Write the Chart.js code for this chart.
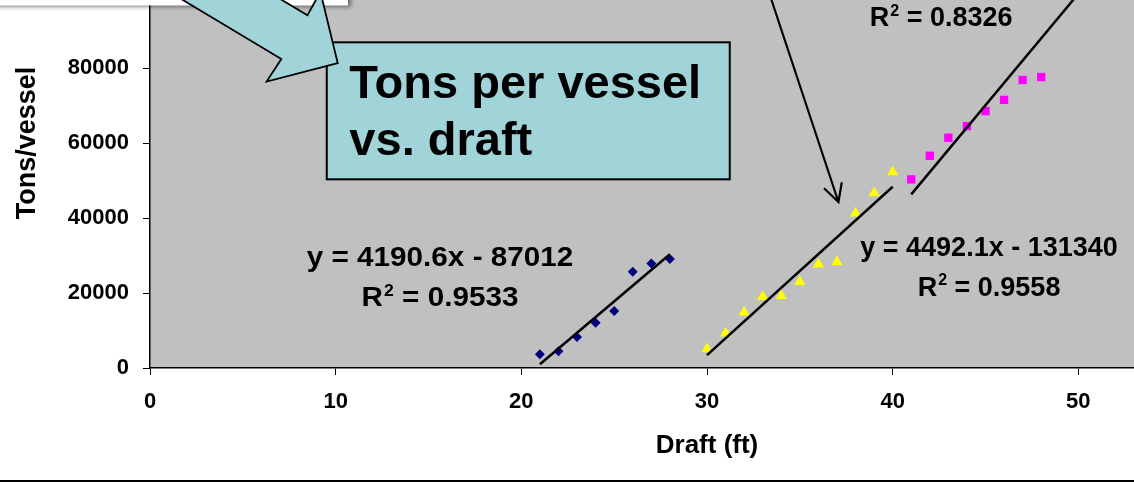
<!DOCTYPE html>
<html>
<head>
<meta charset="utf-8">
<script src="https://cdn.jsdelivr.net/npm/chart.js@4.4.1/dist/chart.umd.min.js"></script>
<style>
  html, body { margin: 0; padding: 0; background: #fff; overflow: hidden; width: 1134px; height: 483px; }
  #wrap { position: absolute; left: 0; top: -100px; width: 1300px; height: 591px; }
  #frame { position: absolute; left: 0; top: 480px; width: 1134px; height: 2px; background: #000; }
</style>
</head>
<body>
<div id="wrap"><canvas id="chart" width="1300" height="591" style="width:1300px;height:591px"></canvas></div>
<div id="frame"></div>
<script>
// Vessel groups: draft (ft) and tons carried per vessel
const draftA = [21, 22, 23, 24, 25, 26, 27, 28];
const tonsA  = [3700, 4500, 8300, 12100, 15200, 25700, 27900, 29100];

const draftB = [30, 31, 32, 33, 34, 35, 36, 37, 38, 39, 40];
const tonsB  = [5100, 9300, 14900, 19000, 19300, 23000, 27700, 28300, 41300, 46700, 52300];

const draftC = [41, 42, 43, 44, 45, 46, 47, 48];
const tonsC  = [50300, 56600, 61400, 64500, 68500, 71500, 76800, 77600];

// Linear trend lines, one per group
const trendSlopes     = [4190.6, 4492.1, 5948];
const trendIntercepts = [-87012, -131340, -197580];
const trendR2         = ['0.9533', '0.9558', '0.8326'];
const trendFrom       = [21, 30, 41];
const trendTo         = [28, 40, 50];

// Axis ticks
const xTicks = [0, 10, 20, 30, 40, 50, 60];
const yTicks = [0, 20000, 40000, 60000, 80000, 100000, 120000];

const FAMILY = "'Liberation Sans', Arial, Helvetica, sans-serif";

const toPoints = (xs, ys) => xs.map((x, i) => ({ x: x, y: ys[i] }));
const trendPoints = k => [trendFrom[k], trendTo[k]].map(x => ({ x: x, y: trendSlopes[k] * x + trendIntercepts[k] }));
const trendText = k => 'y = ' + trendSlopes[k] + 'x - ' + (-trendIntercepts[k]);

// Equation / R² label anchors (data units: centre x, baseline of the R² line)
const labelX       = [15.62, 45.19, 42.61];
const labelY       = [16533, 19280, 91200];
const labelStretch = [1.10, 1.0, 1.0];
const labelShowEq  = [true, true, false];

// Callout box and arrows (data-unit anchors)
const calloutCorner = [9.52, 86850];
const calloutLines = ['Tons per vessel', 'vs. draft'];
const blockArrowTip = [10.11, 81307];
const pointerFrom = [32.76, 108800];
const pointerTo = [37.08, 44267];
const noteBoxCorner = [10.66, 96670];

const plotBackground = {
  id: 'plotBackground',
  beforeDraw(chart) {
    const { ctx, chartArea: a } = chart;
    ctx.save();
    ctx.fillStyle = '#C0C0C0';
    ctx.fillRect(a.left, a.top, a.right - a.left, a.bottom - a.top);
    ctx.restore();
  }
};

function drawR2(ctx, cx, base, value, sx) {
  const main = 'bold 27px ' + FAMILY;
  const sup = 'bold 16px ' + FAMILY;
  ctx.font = main;
  const wR = ctx.measureText('R').width;
  const rest = ' = ' + value;
  const wRest = ctx.measureText(rest).width;
  ctx.font = sup;
  const w2 = ctx.measureText('2').width;
  const gap = 1;
  const total = wR + gap + w2 + wRest;
  ctx.save();
  ctx.translate(cx, base);
  ctx.scale(sx, 1);
  ctx.textAlign = 'left';
  ctx.textBaseline = 'alphabetic';
  let x = -total / 2;
  ctx.font = main; ctx.fillText('R', x, 0); x += wR + gap;
  ctx.font = sup; ctx.fillText('2', x, -10.5); x += w2;
  ctx.font = main; ctx.fillText(rest, x, 0);
  ctx.restore();
}

function drawCentered(ctx, text, cx, base, sx) {
  ctx.save();
  ctx.font = 'bold 27px ' + FAMILY;
  ctx.textAlign = 'center';
  ctx.textBaseline = 'alphabetic';
  ctx.translate(cx, base);
  ctx.scale(sx, 1);
  ctx.fillText(text, 0, 0);
  ctx.restore();
}

const annotations = {
  id: 'annotations',
  afterDraw(chart) {
    const { ctx } = chart;
    const xs = chart.scales.x, ys = chart.scales.y;
    const px = v => xs.getPixelForValue(v);
    const py = v => ys.getPixelForValue(v);

    ctx.save();
    ctx.fillStyle = '#000';

    // white note box at the top (mostly out of frame), with drop shadow
    const nbR = px(noteBoxCorner[0]), nbB = py(noteBoxCorner[1]);
    ctx.save();
    ctx.shadowColor = 'rgba(0,0,0,0.45)';
    ctx.shadowBlur = 4;
    ctx.shadowOffsetX = 3;
    ctx.shadowOffsetY = 2;
    ctx.fillStyle = '#fff';
    ctx.fillRect(nbR - 360, nbB - 80, 360, 80);
    ctx.restore();

    // callout box
    const bx = px(calloutCorner[0]), by = py(calloutCorner[1]);
    const bw = 403, bh = 137;
    ctx.fillStyle = '#A0D4D8';
    ctx.fillRect(bx, by, bw, bh);
    ctx.lineWidth = 2;
    ctx.strokeStyle = '#000';
    ctx.strokeRect(bx, by, bw, bh);
    ctx.fillStyle = '#000';
    ctx.font = 'bold 47px ' + FAMILY;
    ctx.textAlign = 'left';
    ctx.textBaseline = 'alphabetic';
    ctx.fillText(calloutLines[0], bx + 22.6, by + 56);
    ctx.fillText(calloutLines[1], bx + 22.6, by + 112.7);

    // block arrow pointing at the callout
    const tx = px(blockArrowTip[0]), ty = py(blockArrowTip[1]);
    const d = [0.858, 0.514], n = [-0.514, 0.858];
    const headLen = 51.5, headHalf = 52.3, shaftHalf = 25.4, shaftLen = 320;
    const P = (a, b) => [tx + d[0] * a + n[0] * b, ty + d[1] * a + n[1] * b];
    const pts = [
      P(0, 0),
      P(-headLen, headHalf),
      P(-headLen + 1, shaftHalf),
      P(-headLen - shaftLen, shaftHalf),
      P(-headLen - shaftLen, -shaftHalf),
      P(-headLen + 1, -shaftHalf),
      P(-headLen, -headHalf)
    ];
    ctx.beginPath();
    ctx.moveTo(pts[0][0], pts[0][1]);
    for (let i = 1; i < pts.length; i++) ctx.lineTo(pts[i][0], pts[i][1]);
    ctx.closePath();
    ctx.fillStyle = '#A0D4D8';
    ctx.fill();
    ctx.lineWidth = 1.8;
    ctx.lineJoin = 'miter';
    ctx.strokeStyle = '#000';
    ctx.stroke();

    // thin pointer arrow
    const ax0 = px(pointerFrom[0]), ay0 = py(pointerFrom[1]);
    const ax1 = px(pointerTo[0]), ay1 = py(pointerTo[1]);
    ctx.beginPath();
    ctx.moveTo(ax0, ay0);
    ctx.lineTo(ax1, ay1);
    const ang = Math.atan2(ay0 - ay1, ax0 - ax1);
    const hl = 20, spread = 28 * Math.PI / 180;
    ctx.moveTo(ax1 + hl * Math.cos(ang + spread), ay1 + hl * Math.sin(ang + spread));
    ctx.lineTo(ax1, ay1);
    ctx.lineTo(ax1 + hl * Math.cos(ang - spread), ay1 + hl * Math.sin(ang - spread));
    ctx.lineWidth = 2.2;
    ctx.lineCap = 'butt';
    ctx.stroke();

    // trend line equations and R² values
    ctx.fillStyle = '#000';
    for (let k = 0; k < trendR2.length; k++) {
      const cx = px(labelX[k]), base = py(labelY[k]);
      if (labelShowEq[k]) drawCentered(ctx, trendText(k), cx, base - 40, labelStretch[k]);
      drawR2(ctx, cx, base, trendR2[k], labelStretch[k]);
    }
    ctx.restore();
  }
};

Chart.defaults.font.family = FAMILY;
Chart.defaults.color = '#000';

const trendStyle = { showLine: true, borderColor: '#000', borderWidth: 2.5, pointRadius: 0, fill: false, tension: 0 };
const plainNumber = v => String(v);

new Chart(document.getElementById('chart'), {
  type: 'scatter',
  data: {
    datasets: [
      Object.assign({ label: 'Trend A', data: trendPoints(0) }, trendStyle),
      Object.assign({ label: 'Trend B', data: trendPoints(1) }, trendStyle),
      Object.assign({ label: 'Trend C', data: trendPoints(2) }, trendStyle),
      { label: 'Group A', data: toPoints(draftA, tonsA), pointStyle: 'rectRot', pointRadius: 5,
        backgroundColor: '#000080', borderColor: '#000080', borderWidth: 0 },
      { label: 'Group B', data: toPoints(draftB, tonsB), pointStyle: 'triangle', pointRadius: 6.5,
        backgroundColor: '#FFFF00', borderColor: '#FFFF00', borderWidth: 0 },
      { label: 'Group C', data: toPoints(draftC, tonsC), pointStyle: 'rect', pointRadius: 5.9,
        backgroundColor: '#FF00FF', borderColor: '#FF00FF', borderWidth: 0 }
    ]
  },
  options: {
    responsive: false,
    animation: false,
    events: [],
    layout: { padding: { top: 18, right: 36, bottom: 30, left: 0 } },
    plugins: { legend: { display: false }, tooltip: { enabled: false } },
    scales: {
      x: {
        type: 'linear', min: 0, max: 60,
        afterBuildTicks: s => { s.ticks = xTicks.map(v => ({ value: v })); },
        afterFit: s => { s.height = 93; },
        ticks: { color: '#000', font: { size: 22, weight: 'bold' }, padding: 14, maxRotation: 0, autoSkip: false, callback: plainNumber },
        grid: { drawOnChartArea: false, drawTicks: true, tickLength: 7, color: '#000', lineWidth: 1 },
        border: { display: true, color: '#000', width: 1.5 },
        title: { display: true, text: 'Draft (ft)', color: '#000', font: { size: 26, weight: 'bold' }, padding: 0 }
      },
      y: {
        type: 'linear', min: 0, max: 120000,
        afterBuildTicks: s => { s.ticks = yTicks.map(v => ({ value: v })); },
        afterFit: s => { s.width = 150; s.paddingTop = 0; s.paddingBottom = 0; },
        ticks: { color: '#000', font: { size: 22, weight: 'bold' }, padding: 14, callback: plainNumber },
        grid: { drawOnChartArea: false, drawTicks: true, tickLength: 7, color: '#000', lineWidth: 1 },
        border: { display: true, color: '#000', width: 1.5 },
        title: { display: true, text: 'Tons/vessel', color: '#000', font: { size: 27, weight: 'bold' }, padding: { top: 11, bottom: 0 } }
      }
    }
  },
  plugins: [plotBackground, annotations]
});
</script>
</body>
</html>
